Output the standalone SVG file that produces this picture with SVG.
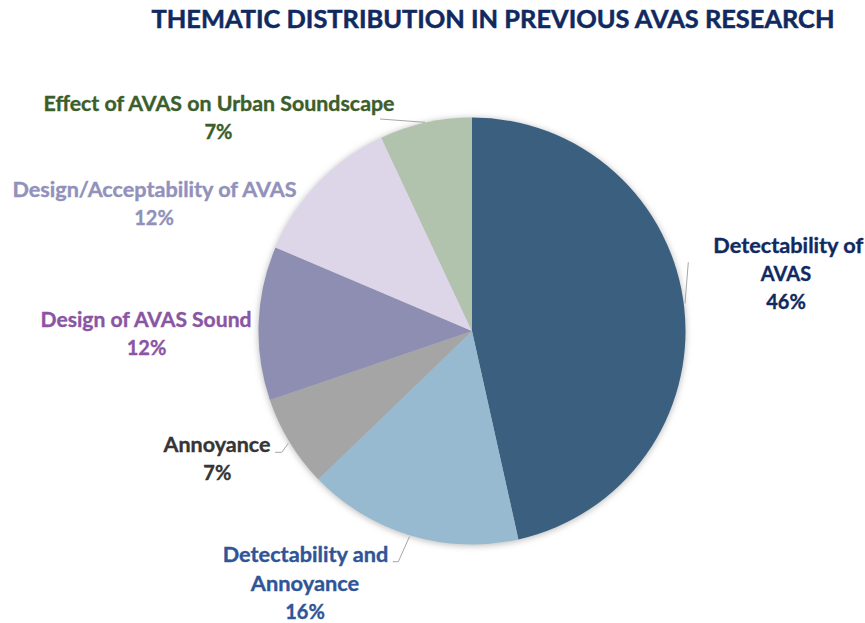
<svg xmlns="http://www.w3.org/2000/svg" width="865" height="623" viewBox="0 0 865 623">
  <defs>
    <filter id="shadow" x="-20%" y="-20%" width="140%" height="140%">
      <feGaussianBlur stdDeviation="3"/>
    </filter>
  </defs>
  <style>
    text { font-family: Lato, "Open Sans", "Liberation Sans", sans-serif; font-weight: bold; text-anchor: middle; stroke-width: 0.35; }
    .title { font-size: 25px; fill: #10295F; stroke: #10295F; stroke-width: 0.5; }
    .lbl { font-size: 20px; }
    .leader { fill: none; stroke: #A6A6A6; stroke-width: 1; }
    .slice { stroke: none; }
    .c-effect { fill: #3B5E2B; stroke: #3B5E2B; }
    .c-accept { fill: #9191BB; stroke: #9191BB; }
    .c-sound { fill: #8A55A3; stroke: #8A55A3; }
    .c-annoy { fill: #353535; stroke: #353535; }
    .c-det { fill: #10295F; stroke: #10295F; }
    .c-detann { fill: #2F5597; stroke: #2F5597; }
  </style>
  <rect width="865" height="623" fill="#FFFFFF"/>
  <text id="title" class="title" x="493" y="28" textLength="683" lengthAdjust="spacingAndGlyphs">THEMATIC DISTRIBUTION IN PREVIOUS AVAS RESEARCH</text>

  <circle cx="472" cy="332" r="214" fill="#BFBFBF" filter="url(#shadow)"/>

  <g id="pie">
    <g id="slice-detectability-avas"><path class="slice" fill="#3B5F7F" d="M472,331 L472,117.5 A213.5,213.5 0 0 1 518.4,539.4 Z"/></g>
    <g id="slice-detectability-annoyance"><path class="slice" fill="#97BAD1" d="M472,331 L518.4,539.4 A213.5,213.5 0 0 1 318.3,479.2 Z"/></g>
    <g id="slice-annoyance"><path class="slice" fill="#A5A5A5" d="M472,331 L318.3,479.2 A213.5,213.5 0 0 1 269.9,399.9 Z"/></g>
    <g id="slice-design-sound"><path class="slice" fill="#8E8EB2" d="M472,331 L269.9,399.9 A213.5,213.5 0 0 1 275.5,247.5 Z"/></g>
    <g id="slice-design-acceptability"><path class="slice" fill="#DDD6E8" d="M472,331 L275.5,247.5 A213.5,213.5 0 0 1 381.4,137.7 Z"/></g>
    <g id="slice-effect"><path class="slice" fill="#B1C2AD" d="M472,331 L381.4,137.7 A213.5,213.5 0 0 1 472,117.5 Z"/></g>
  </g>

  <g id="connectors">
    <path class="leader" d="M380,119 L425,122.3"/>
    <path class="leader" d="M688.3,262.3 L685,303.3"/>
    <path class="leader" d="M275,452.3 L281.7,452.3 L288.3,443.3"/>
    <path class="leader" d="M392.7,561.7 L398.3,561.7 L409.5,536.5"/>
  </g>

  <g id="label-effect">
    <text class="lbl c-effect" x="219" y="111" textLength="351" lengthAdjust="spacingAndGlyphs">Effect of AVAS on Urban Soundscape</text>
    <text class="lbl c-effect" x="218.5" y="138.5">7%</text>
  </g>
  <g id="label-design-acceptability">
    <text class="lbl c-accept" x="154.5" y="196.7" textLength="284" lengthAdjust="spacingAndGlyphs">Design/Acceptability of AVAS</text>
    <text class="lbl c-accept" x="154" y="225">12%</text>
  </g>
  <g id="label-design-sound">
    <text class="lbl c-sound" x="146" y="326.7" textLength="211" lengthAdjust="spacingAndGlyphs">Design of AVAS Sound</text>
    <text class="lbl c-sound" x="146.5" y="355">12%</text>
  </g>
  <g id="label-annoyance">
    <text class="lbl c-annoy" x="217" y="451.7" textLength="107" lengthAdjust="spacingAndGlyphs">Annoyance</text>
    <text class="lbl c-annoy" x="217.3" y="480">7%</text>
  </g>
  <g id="label-detectability-avas">
    <text class="lbl c-det" x="788.3" y="252.7" textLength="150" lengthAdjust="spacingAndGlyphs">Detectability of</text>
    <text class="lbl c-det" x="786" y="280.5">AVAS</text>
    <text class="lbl c-det" x="786" y="308.5">46%</text>
  </g>
  <g id="label-detectability-annoyance">
    <text class="lbl c-detann" x="305.5" y="561.7" textLength="165.5" lengthAdjust="spacingAndGlyphs">Detectability and</text>
    <text class="lbl c-detann" x="305" y="590.7" textLength="108.5" lengthAdjust="spacingAndGlyphs">Annoyance</text>
    <text class="lbl c-detann" x="305" y="619.3">16%</text>
  </g>
</svg>
